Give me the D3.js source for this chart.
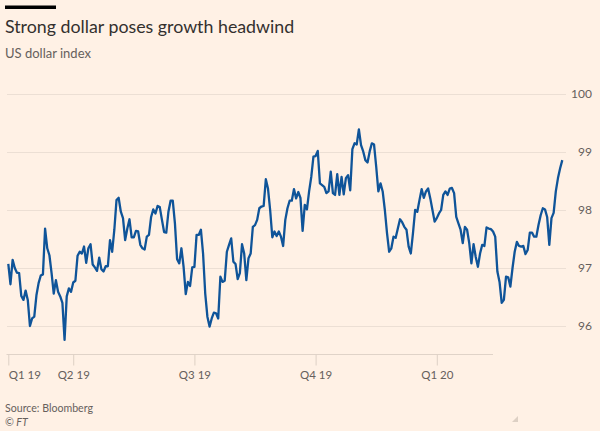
<!DOCTYPE html>
<html>
<head>
<meta charset="utf-8">
<script src="https://cdn.jsdelivr.net/npm/d3@7"></script>
<style>
  html, body { margin: 0; padding: 0; background: #fff1e5; }
  svg { display: block; }
  text { font-family: Lato, "Open Sans", sans-serif; }
</style>
</head>
<body>
<svg id="chart" width="600" height="431"></svg>
<script>
// US dollar index, evenly spaced trading-day readings
const values = [
  97.07, 96.72, 97.14, 97.00, 96.92, 96.91, 96.52, 96.45, 96.61, 96.45,
  96.00, 96.13, 96.16, 96.53, 96.74, 96.87, 96.89, 97.68, 97.34, 97.22,
  96.91, 96.56, 96.79, 96.59, 96.51, 96.40, 95.76, 96.51, 96.65, 96.59,
  96.75, 96.78, 97.21, 97.28, 97.25, 97.37, 97.09, 97.34, 97.41, 97.06,
  97.01, 96.95, 97.18, 96.98, 96.94, 97.03, 97.03,
  97.48, 97.28, 97.66, 98.17, 98.21, 97.97, 97.86, 97.48, 97.68, 97.84,
  97.53, 97.53, 97.64, 97.63, 97.40, 97.34, 97.32, 97.54, 97.57, 97.88,
  98.01, 97.94, 98.07, 98.05, 97.83, 97.62, 97.61, 97.97, 98.16, 98.16,
  97.77, 97.15, 97.08, 97.34, 97.02, 96.55, 96.76, 96.69, 97.01, 97.02,
  97.57, 97.57, 97.66, 97.25, 96.56, 96.16, 95.99, 96.13, 96.23, 96.22,
  96.13,
  96.85, 96.76, 96.78, 97.28, 97.40, 97.51, 97.11, 97.07, 96.81, 96.91,
  97.41, 97.25, 96.79, 97.17, 97.25, 97.71, 97.74, 97.83, 98.03, 98.06,
  98.07, 98.53, 98.37, 98.00, 97.53, 97.63, 97.55, 97.63, 97.54, 97.38,
  97.83, 98.03, 98.16, 98.16, 98.36, 98.20, 98.31, 98.21, 97.64, 98.09,
  98.01, 98.32, 98.57, 98.92, 98.93, 99.02, 98.46, 98.43, 98.40, 98.29,
  98.32,
  98.66, 98.29, 98.26, 98.62, 98.26, 98.57, 98.27, 98.55, 98.60, 98.34,
  99.05, 99.15, 99.13, 99.39, 99.12, 99.01, 98.86, 98.82, 99.01, 99.15,
  99.13, 98.75, 98.32, 98.46, 98.32, 98.00, 97.60, 97.28, 97.34, 97.54,
  97.52, 97.68, 97.84, 97.79, 97.71, 97.66, 97.37, 97.25, 97.60, 98.00,
  97.97, 98.17, 98.36, 98.21, 98.32, 98.37, 98.20, 98.00, 97.80, 97.86,
  97.94, 98.00, 98.26,
  98.32, 98.26, 98.37, 98.38, 98.29, 97.88, 97.77, 97.66, 97.43, 97.71,
  97.66, 97.43, 97.08, 97.41, 97.19, 97.02, 97.25, 97.40, 97.38, 97.70,
  97.68, 97.67, 97.63, 97.54, 96.94, 96.76, 96.40, 96.45, 96.85, 96.84,
  96.68, 97.00, 97.28, 97.45, 97.38, 97.37, 97.38, 97.24, 97.31, 97.61,
  97.61, 97.54, 97.54, 97.74, 97.91, 98.03, 98.01, 97.88, 97.40, 97.86,
  97.95, 98.32, 98.55, 98.72, 98.86
];

// Quarter ticks: trading-day index where each label sits
const xTickIndex = [0, 30, 86, 142, 198];
const xTickLabels = ["Q1 19", "Q2 19", "Q3 19", "Q4 19", "Q1 20"];
const yTicks = [96, 97, 98, 99, 100];

const title = "Strong dollar poses growth headwind";
const subtitle = "US dollar index";
const source = "Source: Bloomberg";
const credit = "\u00A9 FT";

const svg = d3.select("#chart");
const W = 600, H = 431;

svg.append("rect").attr("width", W).attr("height", H).attr("fill", "#fff1e5");

// top rule
svg.append("rect").attr("x", 5).attr("y", 5.5).attr("width", 51).attr("height", 3.5).attr("fill", "#000");

svg.append("text").attr("x", 5).attr("y", 32.5)
  .attr("font-size", 17.8).attr("fill", "#33302e").text(title);
svg.append("text").attr("x", 5).attr("y", 57.5)
  .attr("font-size", 13).attr("fill", "#66605c").text(subtitle);

const x = d3.scaleLinear().domain([0, values.length - 1]).range([8.3, 562.3]);
const y = d3.scaleLinear().domain([96, 100]).range([326, 94]);

// horizontal grid + right labels
const yAxis = d3.axisRight(y).tickValues(yTicks).tickSize(559).tickFormat(d3.format("d"));
const gy = svg.append("g").attr("transform", "translate(7,0)").call(yAxis);
gy.select(".domain").remove();
gy.selectAll(".tick line").attr("stroke", "#ecdfd4").attr("stroke-width", 1);
gy.selectAll(".tick text")
  .attr("x", 585).attr("text-anchor", "end")
  .attr("font-size", 12).attr("fill", "#66605c")
  .style("font-family", "Lato, sans-serif");

// x axis
const xAxis = d3.axisBottom(x).tickValues(xTickIndex)
  .tickFormat((d, i) => xTickLabels[i]).tickSize(11).tickPadding(5);
const gx = svg.append("g").attr("transform", "translate(0,354.5)").call(xAxis);
gx.select(".domain").remove();
gx.insert("line", ":first-child").attr("x1", 6.5).attr("x2", 493).attr("y1", 0).attr("y2", 0)
  .attr("stroke", "#e0d3c8");
gx.selectAll(".tick line").attr("stroke", "#ddd0c5");
gx.selectAll(".tick text").attr("font-size", 11.5).attr("fill", "#66605c")
  .style("font-family", "Lato, sans-serif")
  .attr("text-anchor", (d, i) => i === 0 ? "start" : "middle");

// line
const line = d3.line().x((d, i) => x(i)).y(d => y(d));
svg.append("path").datum(values)
  .attr("fill", "none").attr("stroke", "#0f5499").attr("stroke-width", 2.3)
  .attr("stroke-linejoin", "round").attr("stroke-linecap", "butt")
  .attr("d", line);

// footer
svg.append("text").attr("x", 5).attr("y", 411.5)
  .attr("font-size", 10.6).attr("fill", "#66605c").text(source);
svg.append("text").attr("x", 5).attr("y", 426)
  .attr("font-size", 10.6).attr("font-style", "italic").attr("fill", "#66605c").text(credit);

// resize grip mark
svg.append("path").attr("d", "M518,416 L518,422 L512,422 Z").attr("fill", "#ddd0c4");
</script>
</body>
</html>
